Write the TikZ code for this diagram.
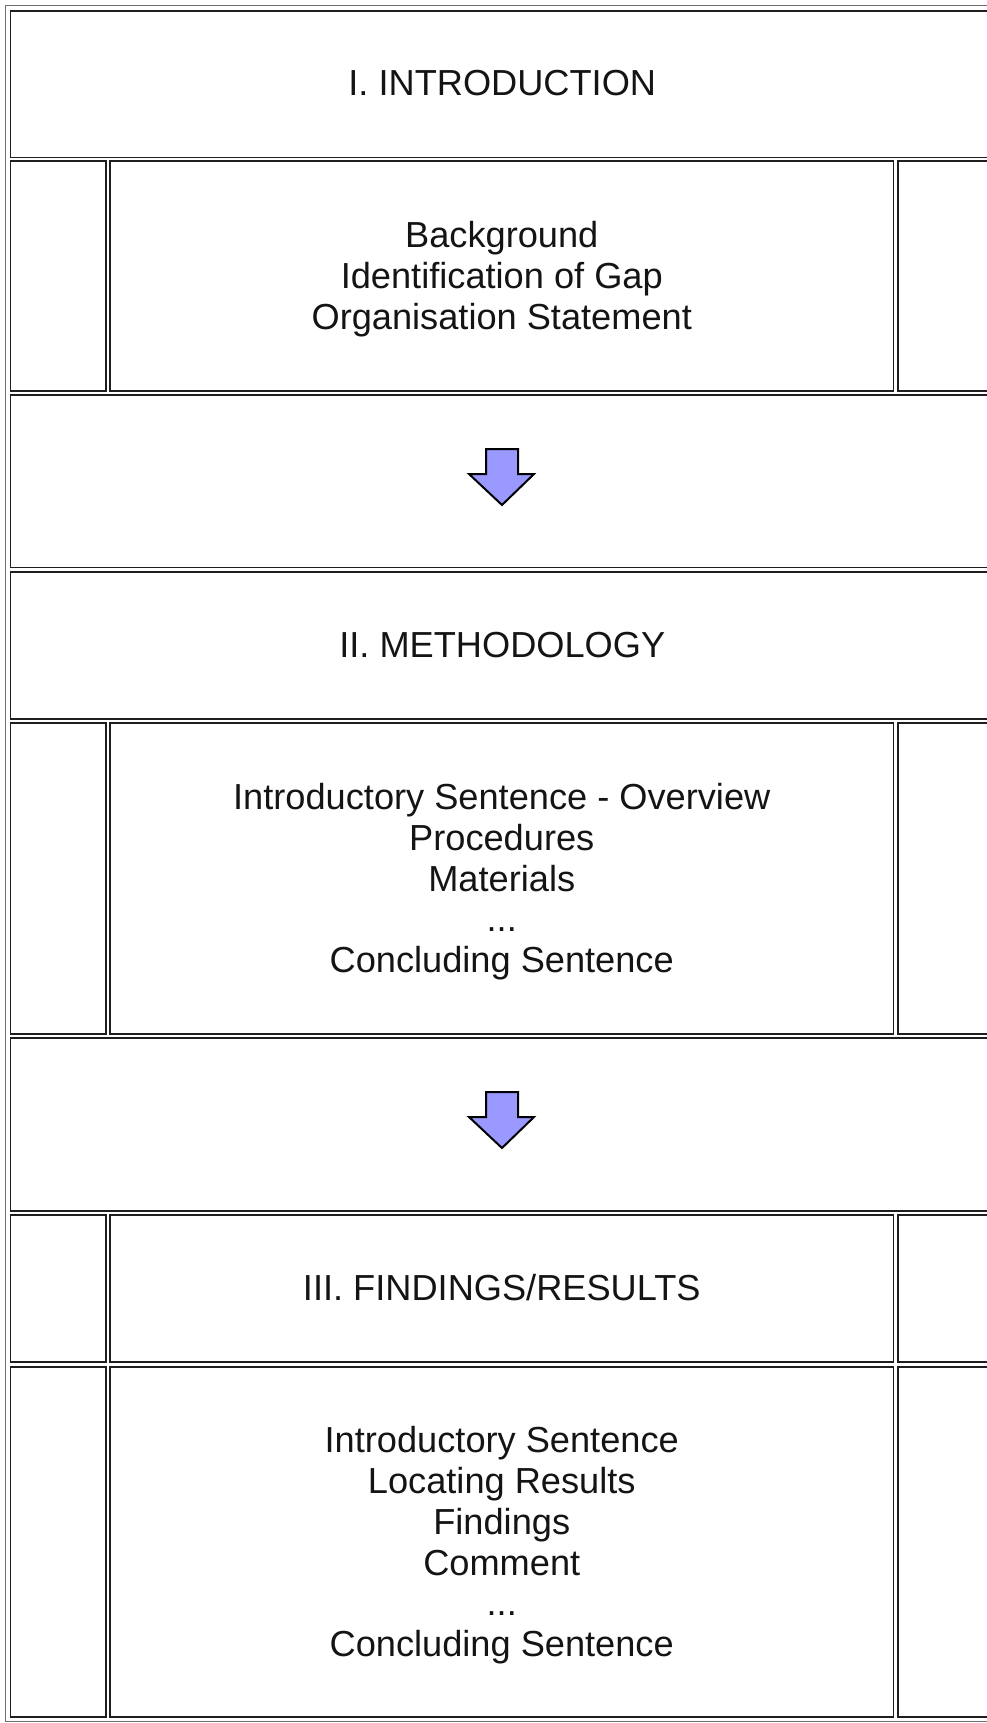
\documentclass[tikz,border=0pt]{standalone}
\usepackage{fontspec}
\setmainfont{Liberation Sans}
\definecolor{arrowfill}{RGB}{153,153,255}
\definecolor{txt}{RGB}{20,20,20}
\definecolor{cellline}{RGB}{30,30,30}
\definecolor{tableline}{RGB}{110,110,110}
\begin{document}
\begin{tikzpicture}[x=1pt,y=-1pt,
  cell/.style={draw=cellline, line width=1.6pt, inner sep=0pt},
  celltext/.style={inner sep=0pt, text=txt, align=center,
    font=\fontsize{36.2}{40.7}\selectfont},
  fullrow/.style={cell, minimum width=983.5pt},
  sidecell/.style={cell, minimum width=95.5pt},
  midcell/.style={cell, minimum width=783.5pt},
  downarrow/.style={draw=black, line width=2pt, fill=arrowfill, line join=miter}]
\useasboundingbox (0,0) rectangle (987,1723);
\clip (0,0) rectangle (987,1723);
% outer table border
\draw[tableline, line width=1.6pt] (5.5,5.5) rectangle (999.5,1721.5);

% Row 1
\node[fullrow, minimum height=146.5pt] (intro) at (502.25,84.25) {};
% Row 2
\node[sidecell, minimum height=230pt] (introL) at (58.25,276) {};
\node[midcell, minimum height=230pt] (introC) at (501.75,276) {};
\node[sidecell, minimum height=230pt] (introR) at (946,276) {};
% Row 3
\node[fullrow, minimum height=172.5pt] (arrowrowA) at (502.25,481.25) {};
% Row 4
\node[fullrow, minimum height=147pt] (method) at (502.25,645.5) {};
% Row 5
\node[sidecell, minimum height=311pt] (methodL) at (58.25,878.5) {};
\node[midcell, minimum height=311pt] (methodC) at (501.75,878.5) {};
\node[sidecell, minimum height=311pt] (methodR) at (946,878.5) {};
% Row 6
\node[fullrow, minimum height=173pt] (arrowrowB) at (502.25,1124.5) {};
% Row 7
\node[sidecell, minimum height=147pt] (findL) at (58.25,1288.5) {};
\node[midcell, minimum height=147pt] (find) at (501.75,1288.5) {};
\node[sidecell, minimum height=147pt] (findR) at (946,1288.5) {};
% Row 8
\node[sidecell, minimum height=350pt] (resL) at (58.25,1542) {};
\node[midcell, minimum height=350pt] (resC) at (501.75,1542) {};
\node[sidecell, minimum height=350pt] (resR) at (946,1542) {};

% texts
\node[celltext] (introT) at ([yshift=1pt]intro.center) {I. INTRODUCTION};
\node[celltext] (introCT) at ([yshift=-3.3pt]introC.center) {Background\\Identification of Gap\\Organisation Statement};
\node[celltext] (methodT) at ([yshift=0.5pt]method.center) {II. METHODOLOGY};
\node[celltext] (methodCT) at ([yshift=-3.3pt]methodC.center) {Introductory Sentence - Overview\\Procedures\\Materials\\...\\Concluding Sentence};
\node[celltext] (findT) at ([yshift=0.5pt]find.center) {III. FINDINGS/RESULTS};
\node[celltext] (resCT) at ([yshift=-3.3pt]resC.center) {Introductory Sentence\\Locating Results\\Findings\\Comment\\...\\Concluding Sentence};

% arrows
\draw[downarrow] (486,449) -- (518,449) -- (518,474) -- (534,474) -- (502,505) -- (469,474) -- (486,474) -- cycle;
\draw[downarrow] (486,1092) -- (518,1092) -- (518,1117) -- (534,1117) -- (502,1148) -- (469,1117) -- (486,1117) -- cycle;
\end{tikzpicture}
\end{document}
